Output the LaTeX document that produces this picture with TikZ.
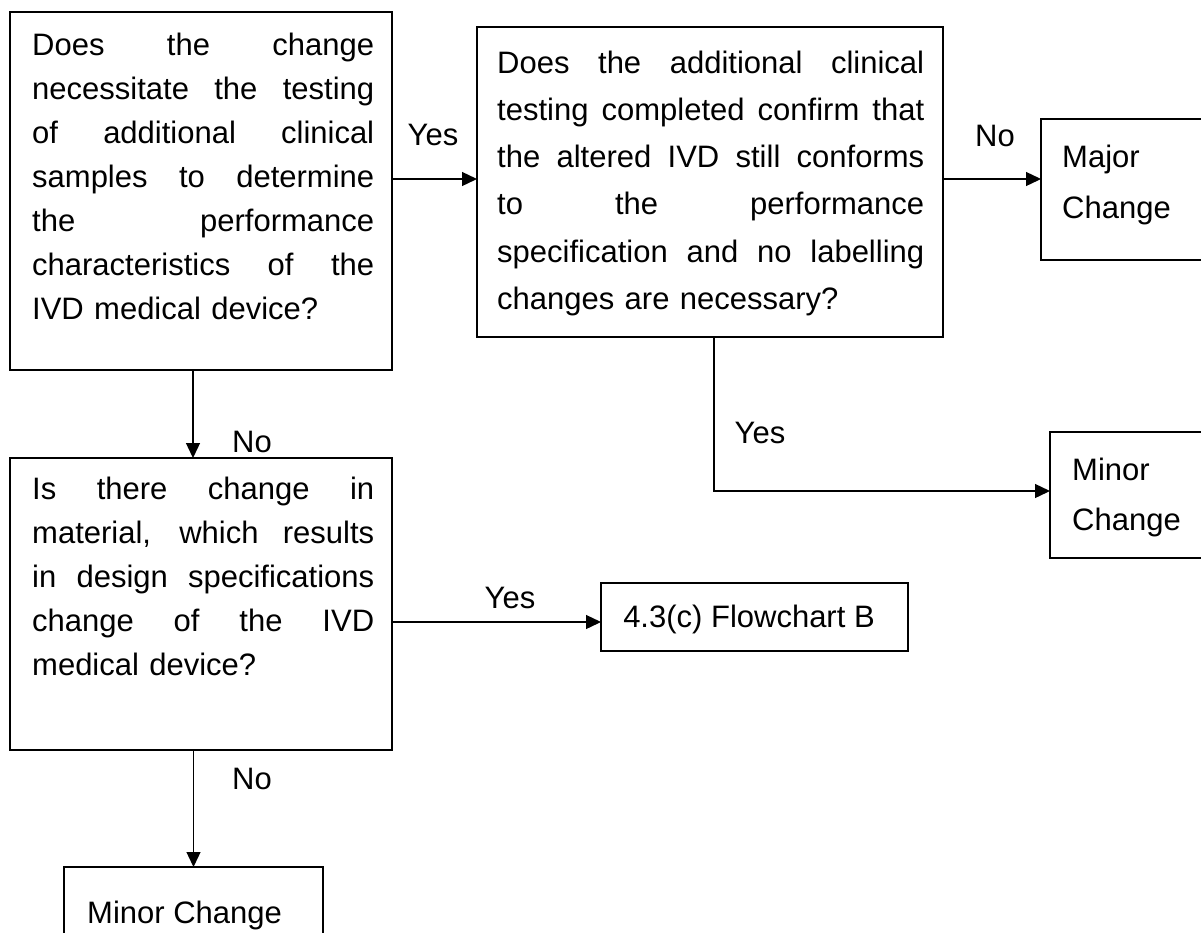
\documentclass[tikz,border=0pt]{standalone}
\usepackage{fontspec}
\setmainfont{Liberation Sans}
\usetikzlibrary{arrows.meta,calc}
\newcommand{\JA}[1]{\leavevmode\hbox to 342pt{\spaceskip=0.28em plus 10em\relax #1}}
\newcommand{\JB}[1]{\leavevmode\hbox to 427pt{\spaceskip=0.28em plus 10em\relax #1}}
\begin{document}
\begin{tikzpicture}[x=1pt,y=-1pt,
  box/.style={draw,line width=1.3pt,inner sep=0pt,outer sep=0pt,anchor=north west},
  txt/.style={inner sep=0pt,anchor=base west,font=\fontsize{31}{44}\selectfont},
  lbl/.style={inner sep=0pt,anchor=base,font=\fontsize{31}{37}\selectfont},
  arr/.style={line width=1.3pt,-{Triangle[length=15pt,width=14pt]}},
  ln/.style={line width=1.3pt}]
\useasboundingbox (0,0) rectangle (1201,932);
\clip (0,0) rectangle (1201,932);
% boxes
\node[box,minimum width=382pt,minimum height=358pt] (q1) at (10,12) {};
\node[box,minimum width=466pt,minimum height=310pt] (q2) at (477,27) {};
\node[box,minimum width=220pt,minimum height=141pt] (major) at (1041,119) {};
\node[box,minimum width=220pt,minimum height=126pt] (minorR) at (1050,432) {};
\node[box,minimum width=382pt,minimum height=292pt] (q3) at (10,458) {};
\node[box,minimum width=307pt,minimum height=68pt] (fcB) at (601,583) {};
\node[box,minimum width=259pt,minimum height=120pt] (minorB) at (64,867) {};
% texts
\node[txt,text width=342pt] (q1t) at (32,55) {\JA{Does the change}\\
\JA{necessitate the testing}\\
\JA{of additional clinical}\\
\JA{samples to determine}\\
\JA{the performance}\\
\JA{characteristics of the}\\
IVD medical device?};
\node[txt,text width=427pt,font=\fontsize{31}{47.3}\selectfont] (q2t) at (497,73) {\JB{Does the additional clinical}\\
\JB{testing completed confirm that}\\
\JB{the altered IVD still conforms}\\
\JB{to the performance}\\
\JB{specification and no labelling}\\
changes are necessary?};
\node[txt,text width=150pt,font=\fontsize{31}{51}\selectfont] (majort) at (1062,167) {Major\\Change};
\node[txt,text width=150pt,font=\fontsize{31}{50}\selectfont] (minorRt) at (1072,480) {Minor\\Change};
\node[txt,text width=342pt] (q3t) at (32,499) {\JA{Is there change in}\\
\JA{material, which results}\\
\JA{in design specifications}\\
\JA{change of the IVD}\\
medical device?};
\node[lbl] (fcBt) at (749,627) {4.3(c) Flowchart B};
\node[txt] (minorBt) at (87,923) {Minor Change};
% connectors
\draw[arr] ([yshift=3pt]q2.west -| q1.east) -- ([yshift=3pt]q2.west);
\draw[arr] ([yshift=3pt]q2.east) -- ([yshift=3pt]q2.east -| major.west);
\draw[arr] ([xshift=4pt]q2.south) |- ([yshift=4pt]minorR.west);
\draw[arr] ([xshift=-8pt]q1.south) -- ([xshift=-8pt]q1.south |- q3.north);
\draw[arr] ([yshift=-5pt]fcB.west -| q3.east) -- ([yshift=-5pt]fcB.west);
\draw[arr] (minorB.north |- q3.south) -- (minorB.north);
% labels
\node[lbl] (l1) at (433,145) {Yes};
\node[lbl] (l2) at (995,146) {No};
\node[lbl] (l3) at (252,452) {No};
\node[lbl] (l4) at (760,443) {Yes};
\node[lbl] (l5) at (510,608) {Yes};
\node[lbl] (l6) at (252,789) {No};
\end{tikzpicture}
\end{document}
